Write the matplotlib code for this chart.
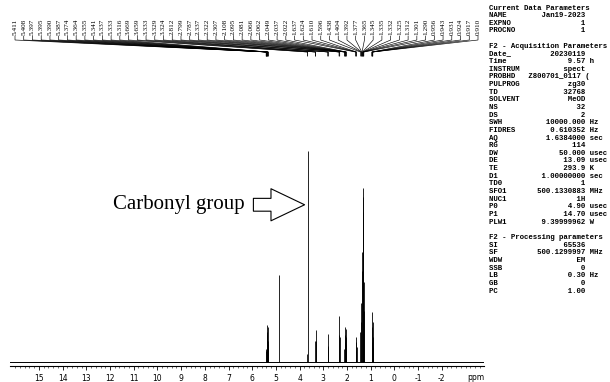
import numpy as np
import matplotlib.pyplot as plt

# labelled lines (ppm) and their heights (relative to the tallest line)
peak_ppm = [5.411, 5.408, 5.397, 5.395, 5.390, 5.387, 5.374, 5.364, 5.355, 5.341, 5.337, 5.333, 5.316,
            3.669, 3.659,
            3.333, 3.329, 3.324,
            2.812, 2.799, 2.787,
            2.337, 2.322, 2.307,
            2.108, 2.095, 2.081, 2.066, 2.062, 2.049, 2.037, 2.022,
            1.637, 1.624, 1.610, 1.596,
            1.438, 1.404, 1.392, 1.377, 1.365, 1.345, 1.335, 1.332, 1.325, 1.312, 1.301, 1.290,
            0.956, 0.943, 0.931, 0.924, 0.917, 0.910]
peak_height = [0.05, 0.06, 0.09, 0.10, 0.13, 0.175, 0.14, 0.12, 0.165, 0.10, 0.085, 0.06, 0.04,
               0.04, 1.00,
               0.10, 0.15, 0.10,
               0.07, 0.135, 0.075,
               0.13, 0.22, 0.12,
               0.06, 0.095, 0.13, 0.165, 0.155, 0.12, 0.085, 0.05,
               0.05, 0.095, 0.12, 0.07,
               0.14, 0.19, 0.28, 0.43, 0.52, 0.71, 0.825, 0.78, 0.66, 0.57, 0.38, 0.24,
               0.095, 0.165, 0.235, 0.19, 0.12, 0.07]

# unlabelled solvent line (HDO)
solvent_ppm = [4.870]
solvent_height = [0.41]

axis_ticks = list(range(15, -3, -1))

# parameter block
current_params = [("NAME", "Jan19-2023", ""), ("EXPNO", "1", ""), ("PROCNO", "1", "")]
acq_params = [("Date_", "20230119", ""), ("Time", "9.57", "h"), ("INSTRUM", "spect", ""),
              ("PROBHD", "Z800701_0117 (", ""), ("PULPROG", "zg30", ""), ("TD", "32768", ""),
              ("SOLVENT", "MeOD", ""), ("NS", "32", ""), ("DS", "2", ""),
              ("SWH", "10000.000", "Hz"), ("FIDRES", "0.610352", "Hz"), ("AQ", "1.6384000", "sec"),
              ("RG", "114", ""), ("DW", "50.000", "usec"), ("DE", "13.09", "usec"),
              ("TE", "293.9", "K"), ("D1", "1.00000000", "sec"), ("TD0", "1", ""),
              ("SFO1", "500.1330883", "MHz"), ("NUC1", "1H", ""), ("P0", "4.90", "usec"),
              ("P1", "14.70", "usec"), ("PLW1", "9.39999962", "W")]
proc_params = [("SI", "65536", ""), ("SF", "500.1299997", "MHz"), ("WDW", "EM", ""),
               ("SSB", "0", ""), ("LB", "0.30", "Hz"), ("GB", "0", ""), ("PC", "1.00", "")]

W, H = 610, 382
fig = plt.figure(figsize=(6.1, 3.82), dpi=100)
ax = fig.add_axes([10 / W, 16 / H, 474 / W, (366 - 60) / H])

ax.vlines(peak_ppm, 0, peak_height, color='black', lw=0.6)
ax.vlines(solvent_ppm, 0, solvent_height, color='black', lw=0.6)
ax.axhline(0, color='black', lw=0.7)

ax.set_xlim(16.22, -3.78)
ax.set_ylim(-0.019, 1.431)
for s in ['top', 'left', 'right']:
    ax.spines[s].set_visible(False)
ax.spines['bottom'].set_linewidth(0.8)
ax.set_yticks([])
ax.set_xticks(axis_ticks)
ax.set_xticklabels([str(t) for t in axis_ticks])
ax.set_xticks(np.arange(16.0, -3.8, -0.2), minor=True)
ax.tick_params(axis='x', which='major', length=3, width=0.6, labelsize=5.5, pad=3)
ax.tick_params(axis='x', which='minor', length=1.5, width=0.4)
ax.text(0.983, -0.036, "ppm", transform=ax.transAxes, ha='center', va='center', fontsize=5.5)

# annotation
ax.text(11.88, 0.745, "Carbonyl group", family='Liberation Serif', fontsize=15,
        ha='left', va='center')
ax.annotate("", xy=(3.79, 0.745), xytext=(5.95, 0.745),
            arrowprops=dict(arrowstyle='simple,head_length=1.1,head_width=1.05,tail_width=0.42',
                            fc='white', ec='black', lw=0.8, shrinkA=0, shrinkB=0,
                            mutation_scale=22))

# peak labels with connector lines at the top
fig.canvas.draw()
to_fig = fig.transFigure.inverted()
n = len(peak_ppm)
label_x = np.linspace(15, 478, n)
for p, lx in zip(peak_ppm, label_x):
    px = to_fig.transform(ax.transData.transform((p, 0)))[0] * W
    xs = np.array([lx, lx, px, px]) / W
    ys = 1 - np.array([36, 40, 52, 56]) / H
    fig.add_artist(plt.Line2D(xs, ys, color='black', lw=0.45, transform=fig.transFigure))
    fig.text(lx / W, 1 - 35 / H, f"{p:.3f}", rotation=90, ha='center', va='bottom',
             fontsize=5.2, family='Liberation Serif')

# parameter text block
lines = ["Current Data Parameters"]
lines += [f"{k:<9}{v:>13} {u}" for k, v, u in current_params]
lines += ["", "F2 - Acquisition Parameters"]
lines += [f"{k:<9}{v:>13} {u}" for k, v, u in acq_params]
lines += ["", "F2 - Processing parameters"]
lines += [f"{k:<9}{v:>13} {u}" for k, v, u in proc_params]
for i, txt in enumerate(lines):
    if txt:
        fig.text(489 / W, 1 - (8 + 7.65 * i) / H, txt, family='Liberation Mono',
                 weight='bold', fontsize=5.3, ha='left', va='center')

fig.savefig("out.png", dpi=100)
